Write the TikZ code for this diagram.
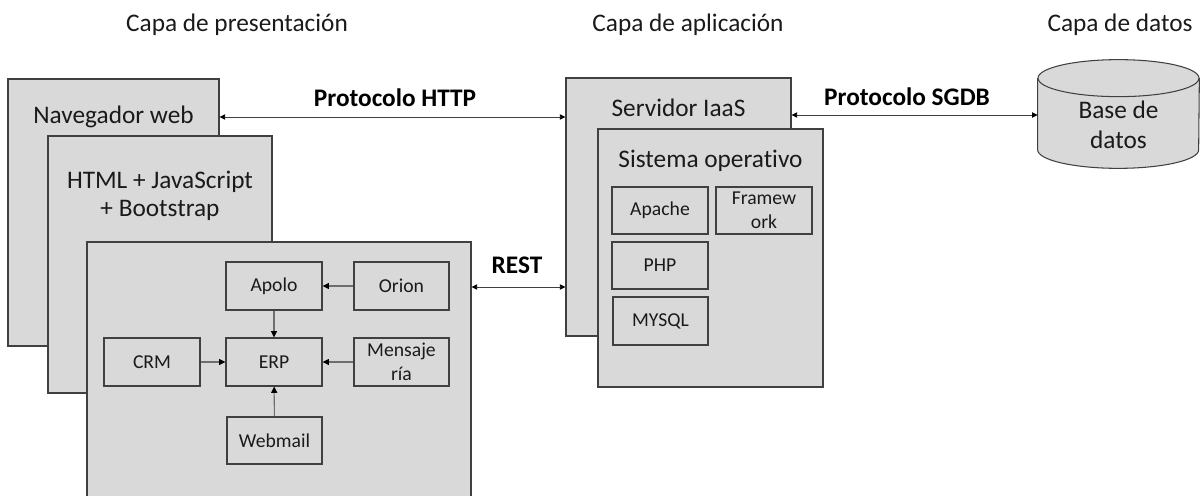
\documentclass[tikz,border=0pt]{standalone}
\usepackage{fontspec}
\setmainfont{Carlito}[RawFeature={-liga;-clig;-calt;-dlig}]
\usetikzlibrary{arrows.meta}
\newdimen\px \px=0.02cm
\definecolor{boxfill}{HTML}{D9D9D9}
\definecolor{boxline}{HTML}{404040}
\definecolor{txt}{HTML}{1A1A1A}
\definecolor{wire}{HTML}{6E6E6E}
\tikzset{
  bigfont/.style={font=\fontsize{14.4}{16}\selectfont},
  smallfont/.style={font=\fontsize{11.2}{13.6}\selectfont},
  layer/.style={draw=boxline, fill=boxfill, line width=0.6pt, inner sep=0pt},
  part/.style={draw=boxline, fill=boxfill, line width=0.6pt, inner sep=0pt,
    smallfont, text=txt, align=center},
  caption/.style={bigfont, text=txt, inner sep=0pt, align=center},
  proto/.style={font=\fontsize{14.4}{16}\selectfont\bfseries, text=black, inner sep=0pt},
  link/.style={draw=boxline, line width=0.5pt,
    {Triangle[length=3.2pt,width=3pt,color=black]}-{Triangle[length=3.2pt,width=3pt,color=black]}},
  feed/.style={draw=wire, line width=0.6pt, -{Triangle[length=3.6pt,width=3.4pt,color=black]}},
}
\begin{document}
\begin{tikzpicture}[x=0.02cm, y=-0.02cm]
\useasboundingbox (0,0) rectangle (1200,496);

% layer headings
\node[caption] (h1) at (237,25) {Capa de presentación};
\node[caption] (h2) at (688,25) {Capa de aplicación};
\node[caption] (h3) at (1120,25) {Capa de datos};

% presentation layer stack
\node[layer, minimum width=211\px, minimum height=267\px] (nav) at (113.5,212.5) {};
\node[caption] (navT) at (113.5,117) {Navegador web};
\node[layer, minimum width=224\px, minimum height=257\px] (html) at (160,264.5) {};
\node[caption, font=\fontsize{14.4}{15.9}\selectfont] (htmlT) at (160,196) {HTML + JavaScript\\+ Bootstrap};
\node[layer, minimum width=384\px, minimum height=280\px] (mods) at (279,382) {};

% modules
\node[part, minimum width=96\px, minimum height=48\px] (apolo) at (274,286) {Apolo};
\node[part, minimum width=95\px, minimum height=48\px] (orion) at (401.5,286) {Orion};
\node[part, minimum width=96\px, minimum height=48\px] (crm) at (152,362) {CRM};
\node[part, minimum width=96\px, minimum height=48\px] (erp) at (274,362) {ERP};
\node[part, minimum width=95\px, minimum height=48\px] (mens) at (401.5,362) {Mensaje\\ría};
\node[part, minimum width=95\px, minimum height=47\px] (webmail) at (274.5,440.5) {Webmail};

\draw[feed] (orion) -- (apolo);
\draw[feed] (apolo) -- (erp);
\draw[feed] (crm) -- (erp);
\draw[feed] (mens) -- (erp);
\draw[feed] (webmail) -- (erp);

% application layer
\node[layer, minimum width=225\px, minimum height=258\px] (srv) at (678.5,207) {};
\node[caption] (srvT) at (678.5,108) {Servidor IaaS};
\node[layer, minimum width=225\px, minimum height=258\px] (os) at (710.5,258) {};
\node[caption] (osT) at (710.5,161) {Sistema operat\kern0pt ivo};
\node[part, minimum width=96\px, minimum height=47\px] (apache) at (660,210.5) {Apache};
\node[part, minimum width=96\px, minimum height=47\px] (fw) at (764,210.5) {Framew\\ork};
\node[part, minimum width=96\px, minimum height=47\px] (php) at (660,265.5) {PHP};
\node[part, minimum width=95\px, minimum height=48\px] (mysql) at (660.5,321) {MYSQL};

% data layer: database cylinder
\node[minimum width=161\px, minimum height=71\px, inner sep=0pt] (db) at (1118.5,114) {};
\fill[boxfill] (db.north west) -- (db.south west)
  arc[start angle=180, end angle=360, x radius=80.5\px, y radius=18.5\px]
  -- (db.north east)
  arc[start angle=0, end angle=180, x radius=80.5\px, y radius=18.5\px] -- cycle;
\draw[boxline, line width=0.6pt] (db.north west) -- (db.south west)
  arc[start angle=180, end angle=360, x radius=80.5\px, y radius=18.5\px]
  -- (db.north east);
\draw[boxline, line width=0.6pt] (db.north) ellipse[x radius=80.5\px, y radius=18.5\px];
\node[caption, font=\fontsize{14.4}{17}\selectfont] (dbT) at (1118.5,125) {Base de\\datos};

% protocol links
\draw[link] (nav.east |- 0,117) -- (srv.west |- 0,117);
\node[proto] (httpL) at (395,98) {Protocolo HTTP};
\draw[link] (srv.east |- 0,115) -- (db.west |- 0,115);
\node[proto] (sgdbL) at (907,97) {Protocolo SGDB};
\draw[link] (mods.east |- 0,287) -- (srv.west |- 0,287);
\node[proto] (restL) at (517,265) {REST};
\end{tikzpicture}
\end{document}
